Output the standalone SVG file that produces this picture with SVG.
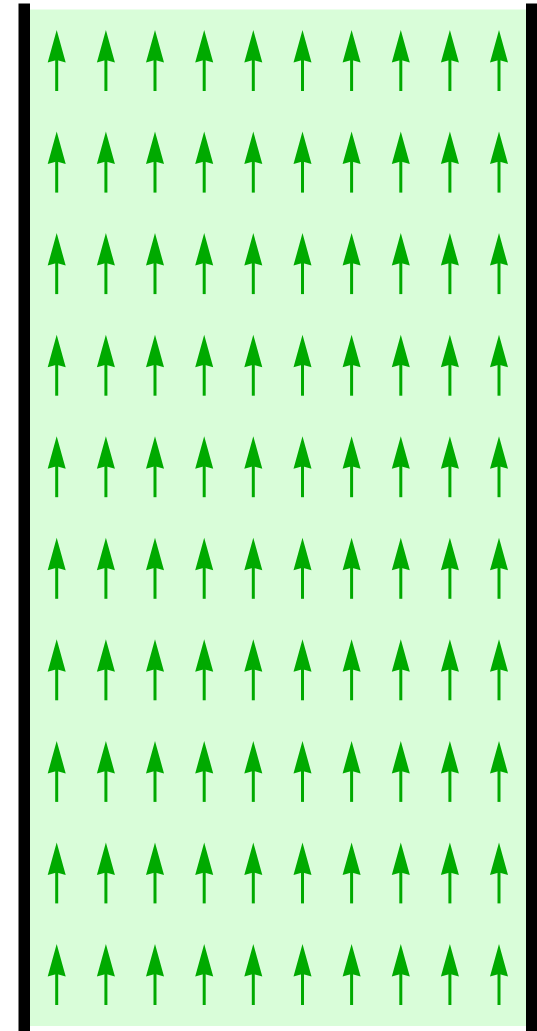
<svg xmlns="http://www.w3.org/2000/svg" width="537" height="1031" viewBox="0 0 537 1031">
<defs>
<style>
.ar{stroke:#00aa00;stroke-width:3;fill:none}
.hd{fill:#00aa00}
</style>
<g id="arrow">
<line class="ar" x1="0" y1="28" x2="0" y2="61"/>
<path class="hd" d="M0,0 L9,32.5 L0,30 L-9,32.5 Z"/>
</g>
</defs>
<rect id="field" x="30" y="9.5" width="496" height="1016.5" fill="#d9fdd9"/>
<rect id="wall-left" x="18.5" y="3.5" width="11.5" height="1028" fill="#000"/>
<rect id="wall-right" x="526" y="3.5" width="12" height="1028" fill="#000"/>
<g id="connectors">
<g id="row0" transform="translate(0,30)"><use href="#arrow" x="56.7"/><use href="#arrow" x="105.9"/><use href="#arrow" x="155"/><use href="#arrow" x="204.2"/><use href="#arrow" x="253.3"/><use href="#arrow" x="302.5"/><use href="#arrow" x="351.6"/><use href="#arrow" x="400.8"/><use href="#arrow" x="449.9"/><use href="#arrow" x="499"/></g>
<use href="#row0" y="101.6"/>
<use href="#row0" y="203.1"/>
<use href="#row0" y="304.7"/>
<use href="#row0" y="406.2"/>
<use href="#row0" y="507.8"/>
<use href="#row0" y="609.3"/>
<use href="#row0" y="710.9"/>
<use href="#row0" y="812.4"/>
<use href="#row0" y="914"/>
</g>
</svg>
